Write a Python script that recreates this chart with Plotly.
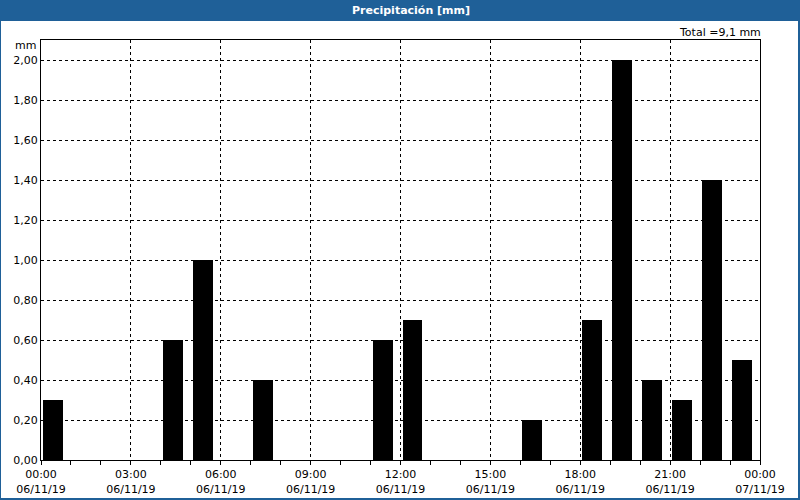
import plotly.graph_objects as go
from datetime import datetime, timedelta

# Data
hours = ["00:00", "04:00", "05:00", "07:00", "11:00", "12:00", "16:00",
         "18:00", "19:00", "20:00", "21:00", "22:00", "23:00"]
precip_mm = [0.3, 0.6, 1.0, 0.4, 0.6, 0.7, 0.2, 0.7, 2.0, 0.4, 0.3, 1.4, 0.5]
tick_labels = ["00:00<br>06/11/19", "03:00<br>06/11/19", "06:00<br>06/11/19",
               "09:00<br>06/11/19", "12:00<br>06/11/19", "15:00<br>06/11/19",
               "18:00<br>06/11/19", "21:00<br>06/11/19", "00:00<br>07/11/19"]
y_ticks = [0.0, 0.2, 0.4, 0.6, 0.8, 1.0, 1.2, 1.4, 1.6, 1.8, 2.0]
title_text = "Precipitación [mm]"
total_text = "Total =9,1 mm"

base = datetime(2019, 11, 6)
x_start = [base + timedelta(hours=int(h[:2])) for h in hours]
x_center = [t + timedelta(minutes=24) for t in x_start]
tick_vals = [base + timedelta(hours=3 * i) for i in range(9)]
bar_width_ms = 40 * 60 * 1000

L, R, T, B = 41, 40, 40, 40
W, H = 800, 500
pw, ph = W - L - R, H - T - B

def px(x):
    return (x - L) / pw

def py(y):
    return (H - B - y) / ph

BLUE = "#1f6098"
FONT = "DejaVu Sans"
DASH = "3px,3px"

fig = go.Figure()
fig.add_trace(go.Bar(x=x_center, y=precip_mm, width=bar_width_ms,
                     marker=dict(color="black", line=dict(width=0)),
                     hoverinfo="skip"))

fig.update_layout(
    width=W, height=H,
    margin=dict(l=L, r=R, t=T, b=B, autoexpand=False),
    paper_bgcolor="white", plot_bgcolor="white",
    separators=",.",
    showlegend=False,
    bargap=0,
    font=dict(family=FONT, size=11, color="black"),
    xaxis=dict(
        range=[base, base + timedelta(hours=24)],
        tickvals=tick_vals, ticktext=tick_labels,
        showgrid=True, gridcolor="black", griddash=DASH, gridwidth=1,
        ticks="outside", ticklen=4, tickcolor="black",
        minor=dict(dtick=3600000, ticks="outside", ticklen=4, tickcolor="black", showgrid=False),
        showline=True, linecolor="black", linewidth=1, mirror=True,
        zeroline=False, fixedrange=True, automargin=False,
        tickfont=dict(family=FONT, size=11, color="black"),
    ),
    yaxis=dict(
        range=[0, 2.1],
        tickvals=y_ticks, tickformat=".2f",
        showgrid=True, gridcolor="black", griddash=DASH, gridwidth=1,
        ticks="", ticklen=0,
        showline=True, linecolor="black", linewidth=1, mirror=True,
        zeroline=False, fixedrange=True, automargin=False,
        tickfont=dict(family=FONT, size=11, color="black"),
    ),
    shapes=[
        dict(type="rect", xref="paper", yref="paper", x0=px(0), x1=px(800), y0=py(21), y1=py(0),
             fillcolor=BLUE, line=dict(width=0), layer="above"),
        dict(type="rect", xref="paper", yref="paper", x0=px(0), x1=px(1), y0=py(500), y1=py(0),
             fillcolor=BLUE, line=dict(width=0), layer="above"),
        dict(type="rect", xref="paper", yref="paper", x0=px(798), x1=px(800), y0=py(500), y1=py(0),
             fillcolor=BLUE, line=dict(width=0), layer="above"),
        dict(type="rect", xref="paper", yref="paper", x0=px(0), x1=px(800), y0=py(500), y1=py(498),
             fillcolor=BLUE, line=dict(width=0), layer="above"),
    ],
    annotations=[
        dict(text="<b>" + title_text + "</b>", xref="paper", yref="paper", x=px(411), y=py(10.5),
             xanchor="center", yanchor="middle", showarrow=False,
             font=dict(family=FONT, size=11, color="white")),
        dict(text=total_text, xref="paper", yref="paper", x=px(763), y=py(32),
             xanchor="right", yanchor="middle", showarrow=False,
             font=dict(family=FONT, size=11, color="black")),
        dict(text="mm", xref="paper", yref="paper", x=px(38), y=py(46),
             xanchor="right", yanchor="middle", showarrow=False,
             font=dict(family=FONT, size=11, color="black")),
    ],
)

fig.write_html("out.html")
